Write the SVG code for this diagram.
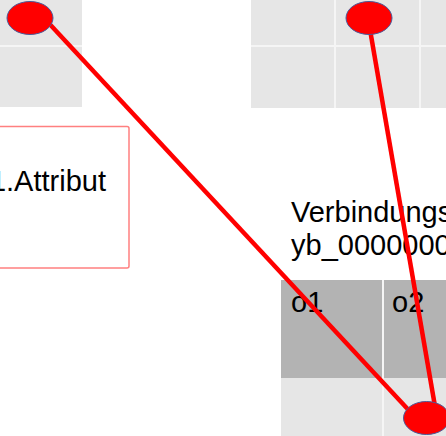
<svg xmlns="http://www.w3.org/2000/svg" width="446" height="436" viewBox="0 0 446 436">
<style>
.lt{fill:#e6e6e6}
.hd{fill:#b3b3b3}
.sep{stroke:#f5f5f5;stroke-width:2}
.t{font-family:"Liberation Sans",Arial,sans-serif;font-size:29px;fill:#000}
.conn{stroke:#ff0000;stroke-width:4.5;fill:none}
.port{fill:#ff0000;stroke:#4a5a9a;stroke-width:1}
</style>
<rect x="0" y="0" width="446" height="436" fill="#ffffff"/>
<g id="table-top-left">
<rect class="lt" x="-2" y="0" width="84" height="107"/>
<line class="sep" x1="-2" y1="46" x2="82" y2="46"/>
</g>
<g id="table-top-right">
<rect class="lt" x="251" y="0" width="197" height="108"/>
<line class="sep" x1="251" y1="46" x2="448" y2="46"/>
<line class="sep" x1="335" y1="0" x2="335" y2="108"/>
<line class="sep" x1="420" y1="0" x2="420" y2="108"/>
</g>
<g id="attribute-node">
<rect x="-10" y="126.5" width="139" height="141.5" rx="2" fill="#ffffff" stroke="#ff8080" stroke-width="1.5"/>
<text class="t" x="106" y="191" text-anchor="end">1.Attribut</text>
</g>
<g id="verbindung-node">
<text class="t" x="291" y="222">Verbindungs</text>
<text class="t" x="291" y="255">yb_0000000</text>
<rect class="hd" x="281" y="280" width="167" height="98"/>
<rect class="lt" x="281" y="378" width="167" height="60"/>
<line class="sep" x1="383" y1="280" x2="383" y2="436"/>
<text class="t" x="291" y="312">o1</text>
<text class="t" x="392" y="312">o2</text>
</g>
<g id="connectors">
<line class="conn" x1="44" y1="18" x2="416" y2="418"/>
<line class="conn" x1="368" y1="18" x2="437" y2="418"/>
</g>
<g id="port-top-left"><ellipse class="port" cx="30" cy="18" rx="23" ry="16.5"/></g>
<g id="port-top-right"><ellipse class="port" cx="369" cy="18" rx="23" ry="16.5"/></g>
<g id="port-bottom"><ellipse class="port" cx="426.5" cy="418" rx="23" ry="16.5"/></g>
</svg>
